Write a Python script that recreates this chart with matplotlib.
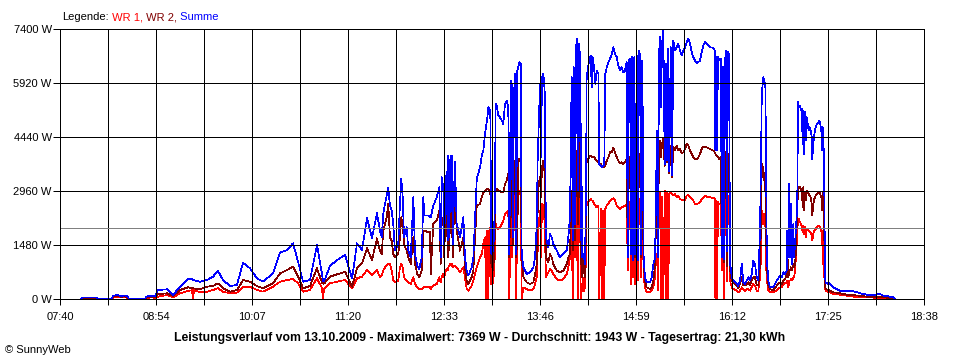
import matplotlib
matplotlib.use("Agg")
import matplotlib.pyplot as plt
import numpy as np

plt.rcParams['font.family'] = ['Liberation Sans', 'DejaVu Sans']

# ---------------- data (time in minutes since midnight, power in W) ----------------
time_min = [
    # early morning
    476.0, 476.8, 488.2, 488.9, 499.6, 500.4, 503.4, 506.5, 509.5, 511.8, 512.6, 524.7, 525.5, 528.5, 532.4, 534.6,
    # morning
    541.5, 546.1, 551.4, 557.5, 560.5, 561.3, 562.1, 566.6, 572.0, 576.5, 580.3, 584.1, 589.5, 594.8, 599.4, 604.7,
    610.0, 614.6, 622.2, 627.6, 632.9, 637.5, 641.3, 645.1, 650.4, 655.7, 659.5, 660.3, 661.1, 665.6, 671.0, 677.1,
    682.4, 686.2, 690.0, 693.8, 697.6, 701.4,
    # late morning
    703.7, 705.0, 706.2, 707.5, 708.8, 710.0, 711.3, 712.6, 713.8, 715.1, 717.6, 718.9, 719.9, 721.0, 722.0,
    724.0, 725.3, 727.1, 729.1, 730.4, 732.1, 733.6, 735.5, 736.7, 737.4, 740.5, 741.8, 742.3, 744.3, 746.9,
    748.9, 749.9, 750.7, 751.9, 752.7, 753.4, 754.5, 755.3, 755.7, 756.5, 757.3, 758.3, 759.1, 760.1, 760.8,
    762.1, 764.6, 767.2, 768.4, 769.7, 771.0, 773.5, 774.8, 777.4, 779.9,
    # early afternoon
    781.2, 782.4, 783.7, 784.4, 785.2, 786.2, 787.0, 787.7, 788.5, 790.0, 791.1, 791.8, 792.6, 793.8, 795.1,
    796.4, 797.6, 798.9, 800.2, 801.4, 802.2, 803.3, 804.0, 804.8, 805.8, 806.5, 807.3, 808.3, 809.0, 809.8,
    810.9, 811.6, 812.9, 815.4, 818.0, 820.5, 821.8, 823.1, 823.8, 824.6, 825.6, 826.3, 827.1, 828.1, 829.1,
    830.1, 831.9, 833.2, 834.5, 835.7, 838.3, 840.8, 843.3, 845.9, 847.1, 848.4, 849.2, 849.7, 850.5, 851.2,
    852.0, 852.7, 853.5, 854.3, 855.0, 856.0,
    # afternoon
    856.6, 857.0, 857.6, 858.3, 859.1, 859.8, 860.6, 861.1, 862.1, 863.1, 864.2, 864.9, 865.7, 866.7, 867.7,
    868.7, 870.0, 870.7, 871.8, 872.8, 873.8, 874.5, 875.3, 876.4, 877.6, 878.9, 880.2, 881.4, 882.7, 884.0,
    885.2, 886.5, 887.8, 889.0, 890.3, 891.6, 892.4, 893.1, 894.1, 894.9, 895.6, 896.4, 897.4, 898.1, 899.2,
    900.0, 901.0, 902.0, 902.7, 903.5, 904.5, 905.5, 906.8, 909.3, 910.6, 911.9, 913.2, 913.9, 914.7, 915.4,
    916.2, 917.0, 917.7, 918.5, 919.5, 920.5, 921.5, 922.5, 923.3, 924.0, 925.1, 926.1, 927.1, 928.4, 929.7,
    930.9, 932.2,
    # mid afternoon
    933.5, 934.7, 936.0, 937.3, 938.5, 939.8, 941.1, 942.3, 943.6, 944.9, 946.1, 947.4, 948.7, 949.9, 951.2,
    952.5, 955.0, 957.6, 958.6, 959.1, 959.8, 960.4, 961.1, 962.1, 963.2, 964.2, 964.9, 965.7, 966.5, 967.2,
    968.0, 968.7, 969.5, 970.3, 971.6, 972.8, 975.4, 976.6, 977.9, 979.2, 980.4, 981.7, 983.0, 984.2, 985.5,
    986.8, 988.0, 989.3, 990.6, 991.8, 993.1, 993.9, 994.4, 994.9, 995.6, 996.4, 997.2, 997.7, 998.2, 998.7,
    999.4, 1000.7, 1003.2, 1005.8, 1008.4,
    # evening
    1009.6, 1010.9, 1012.2, 1013.5, 1013.9, 1014.7, 1015.4, 1016.0, 1016.7, 1017.5, 1018.5, 1019.0, 1019.8,
    1020.5, 1021.1, 1021.5, 1022.1, 1022.8, 1023.6, 1024.4, 1024.9, 1025.6, 1026.1, 1026.6, 1027.4, 1027.9,
    1028.7, 1029.4, 1030.2, 1031.0, 1031.7, 1032.5, 1032.9, 1033.7, 1034.5, 1035.5, 1036.3, 1037.5, 1038.3,
    1039.0, 1039.8, 1040.3, 1040.9, 1041.3, 1041.9, 1042.4, 1042.9, 1045.1, 1046.4, 1048.9, 1051.5, 1054.0,
    1059.1, 1064.2, 1068.0, 1069.3, 1074.4, 1079.4, 1084.5, 1087.0, 1089.6, 1092.1, 1094.6, 1095.9,
]

summe = [
    0, 40, 40, 0, 0, 90, 110, 80, 100, 60, 0, 0, 60, 90, 80, 247,
    266, 110, 337, 557, 540, 521, 510, 475, 521, 612, 767, 521, 356, 384, 995, 841,
    567, 475, 704, 1270, 1343, 1526, 1023, 475, 521, 1480, 700, 500, 480, 904, 1069, 1206,
    560, 1526, 1343, 2211, 1663, 2349,
    1874, 1691, 2331, 2605, 2833, 3044, 2559, 2422, 2057, 1325, 1508, 2605, 3290, 2788, 1691,
    1965, 1325, 1142, 2788, 1234, 914, 823, 1142, 2788, 2285, 2285, 2239, 2239, 2559, 2788,
    3062, 1142, 3336, 3062, 1508, 3153, 3473, 1600, 3930, 1691, 3884, 3930, 1508, 2970, 3747,
    2057, 1691, 2239, 1142, 777, 640, 868, 1142, 3290, 3610,
    3930, 4067, 4524, 4707, 4890, 5255, 5210, 5164, 1234, 1325, 2422, 5347, 5301, 5027, 4981,
    4890, 4799, 5347, 5438, 5255, 1234, 5987, 5895, 1691, 5621, 6170, 1234, 6261, 6353, 6490,
    6444, 1234, 868, 686, 731, 868, 1142, 2057, 3884, 4799, 5895, 3884, 6078, 6170, 5712,
    1691, 1416, 1782, 1691, 1508, 1325, 1142, 1234, 1325, 1691, 2239, 4799, 6078, 1600, 6353,
    2057, 6627, 7130, 2970, 6992, 6718,
    1600, 4799, 1142, 1234, 1142, 960, 2970, 6078, 6353, 6535, 6672, 5804, 6627, 6353, 5895,
    6261, 6170, 3702, 3656, 3610, 3656, 3702, 6170, 6353, 6490, 6581, 6718, 6900, 6718, 6627,
    6398, 6261, 6353, 6215, 6261, 6490, 1142, 6535, 6581, 1234, 6627, 1051, 6627, 1234, 6672,
    1051, 6809, 6627, 1234, 6535, 1142, 594, 457, 457, 594, 960, 1142, 2970, 4616, 1142,
    6718, 7175, 5255, 6992, 7369, 3700, 6444, 3800, 6855, 3500, 6900, 3400, 7084, 6809, 6900,
    6992, 6809,
    6672, 6809, 6900, 7038, 7130, 6992, 6764, 6627, 6535, 6462, 6490, 6535, 6764, 6946, 7038,
    6992, 6900, 6882, 6809, 4067, 6627, 4067, 6627, 6535, 6581, 1142, 6353, 1100, 6535, 6809,
    1300, 6764, 6718, 1000, 594, 503, 411, 360, 503, 960, 457, 411, 503, 594, 503,
    685, 1051, 960, 594, 503, 1874, 3884, 5438, 5804, 6078, 5987, 5804, 3884, 1600, 900,
    503, 320, 320, 503, 640,
    594, 731, 685, 777, 1874, 1142, 3153, 1142, 2605, 960, 2057, 1142, 1508,
    1965, 2300, 2788, 5393, 5255, 5301, 5164, 5210, 4250, 5164, 3976, 5118, 4341,
    4981, 4799, 4616, 4707, 4616, 4433, 3839, 4250, 4524, 4707, 4799, 4844, 4890,
    4799, 4616, 4067, 4707, 4524, 3702, 1600, 457, 411, 430, 320, 274, 228,
    210, 210, 174, 155, 119, 110, 137, 91, 82, 64, 46, 0,
]

wr2 = [
    0, 20, 20, 0, 0, 60, 80, 60, 70, 40, 0, 0, 40, 60, 55, 128,
    156, 82, 247, 320, 300, 293, 290, 265, 338, 356, 430, 293, 201, 247, 521, 475,
    356, 293, 430, 704, 795, 886, 612, 293, 356, 841, 450, 430, 420, 612, 677, 748,
    338, 841, 978, 1389, 1069, 1663,
    1325, 1234, 1874, 2057, 2239, 2605, 1691, 1600, 1234, 1142, 1234, 1691, 2239, 2057, 1508,
    1325, 1142, 960, 1691, 960, 685, 594, 777, 1874, 1874, 1828, 1828, 685, 2057, 2148,
    2422, 960, 2057, 2239, 1142, 2422, 2605, 1142, 2879, 1325, 2788, 2605, 1142, 2422, 2879,
    1874, 1325, 1691, 868, 503, 411, 594, 777, 2559, 2605,
    2788, 2925, 2970, 2970, 3016, 3016, 2988, 2970, 960, 777, 1691, 2970, 3016, 2970, 2970,
    2925, 2925, 3153, 3245, 3427, 1142, 3519, 3427, 1508, 3610, 3793, 1142, 1600, 3747, 3839,
    3793, 1142, 594, 457, 411, 457, 685, 960, 2422, 3153, 3336, 2788, 3610, 3793, 3427,
    1142, 1005, 1234, 1142, 960, 777, 731, 777, 960, 1142, 1234, 2422, 2970, 1325, 3336,
    1600, 3610, 4067, 2057, 4250, 4433,
    960, 1874, 594, 777, 1142, 594, 2057, 3793, 3839, 3884, 3930, 3884, 3905, 3884, 3839,
    3793, 3747, 3702, 3702, 3656, 3610, 3629, 3656, 3793, 3884, 4022, 4022, 4141, 4022, 3884,
    3793, 3720, 3747, 3702, 3747, 3839, 1142, 3884, 3905, 1234, 3884, 1142, 3930, 1142, 3976,
    1051, 3976, 3884, 1142, 3793, 960, 503, 320, 274, 320, 503, 960, 2057, 2970, 1142,
    4250, 4341, 3884, 4250, 4387, 3650, 4159, 3750, 4067, 3450, 4205, 3350, 4159, 4067, 4205,
    4067, 4113,
    3994, 4022, 4113, 4250, 4205, 4067, 3976, 3884, 3839, 3839, 3884, 3976, 4113, 4177, 4159,
    4159, 4113, 4067, 4022, 3976, 3930, 3930, 3905, 3839, 3884, 1142, 3976, 1000, 3884, 4022,
    900, 3976, 3930, 800, 503, 457, 366, 300, 411, 594, 366, 366, 411, 457, 366,
    503, 594, 594, 366, 366, 960, 2057, 3702, 3336, 3610, 3245, 2970, 1691, 1142, 700,
    366, 274, 228, 366, 457,
    411, 503, 548, 685, 1325, 594, 777, 777, 868, 777, 960, 868, 960,
    1325, 2057, 2422, 3062, 3080, 3062, 2970, 3016, 2514, 3062, 2422, 2925, 2696,
    2970, 2925, 2879, 2833, 2788, 2605, 2285, 2605, 2742, 2833, 2879, 2925, 2925,
    2879, 2788, 2422, 2925, 2605, 2057, 960, 274, 247, 228, 183, 174, 155,
    119, 110, 91, 91, 64, 64, 46, 46, 37, 27, 18, 0,
]

wr1 = [
    0, 10, 10, 0, 0, 40, 50, 40, 45, 30, 0, 0, 20, 40, 35, 64,
    110, 46, 156, 219, 240, 0, 240, 192, 201, 247, 293, 201, 156, 174, 338, 338,
    247, 201, 338, 475, 521, 548, 430, 201, 247, 567, 300, 0, 280, 430, 475, 521,
    293, 567, 612, 795, 658, 795,
    594, 640, 777, 868, 914, 960, 960, 777, 503, 457, 503, 868, 960, 868, 594,
    503, 457, 411, 594, 411, 320, 274, 274, 320, 320, 320, 320, 274, 366, 411,
    594, 457, 594, 685, 594, 731, 823, 777, 868, 914, 960, 960, 868, 914, 914,
    868, 731, 868, 594, 274, 228, 366, 503, 868, 1142,
    1234, 1508, 1691, 0, 1874, 0, 1919, 1965, 411, 457, 1142, 2057, 1965, 1919, 1965,
    2057, 2148, 2331, 2376, 2422, 0, 2605, 1142, 2422, 2514, 2879, 0, 2057, 2788, 2970,
    2925, 0, 320, 274, 228, 274, 411, 594, 1325, 2057, 2422, 1142, 2605, 2560, 2057,
    594, 731, 823, 777, 685, 548, 503, 548, 685, 868, 1142, 1691, 2057, 0, 2422,
    1142, 2605, 2788, 0, 2879, 2925,
    0, 411, 228, 594, 228, 320, 1142, 2605, 2651, 2696, 2742, 2696, 2696, 2605, 2560,
    2514, 2560, 0, 2468, 0, 2422, 0, 2468, 2560, 2605, 2696, 2742, 2760, 2696, 2560,
    2514, 2468, 2514, 2532, 2560, 2605, 777, 2605, 2651, 411, 2651, 594, 2651, 411, 2696,
    503, 2742, 2651, 594, 2605, 594, 320, 183, 183, 228, 320, 594, 1142, 1233, 228,
    2879, 2925, 0, 2788, 0, 2970, 0, 2925, 0, 2879, 2925, 2879, 2833, 2879, 2788,
    2833, 2742,
    2715, 2696, 2724, 2833, 2861, 2788, 2742, 2696, 2605, 2605, 2623, 2651, 2742, 2788, 2833,
    2806, 2788, 2770, 2742, 0, 2696, 0, 2651, 2605, 2605, 777, 2970, 0, 2879, 2879,
    500, 2833, 2788, 500, 320, 274, 228, 183, 228, 320, 274, 228, 274, 274, 228,
    320, 411, 366, 228, 228, 594, 1142, 2239, 2422, 2057, 2331, 1965, 960, 594, 411,
    228, 183, 183, 228, 320,
    320, 411, 430, 457, 503, 320, 503, 503, 548, 503, 594, 594, 777,
    1142, 1508, 1874, 2148, 2194, 2102, 2057, 1965, 1828, 2011, 1782, 1965, 1691,
    1919, 1892, 1874, 1855, 1828, 1737, 1600, 1782, 1874, 1919, 1965, 2011, 2011,
    1965, 1874, 1508, 1874, 960, 594, 594, 228, 183, 183, 137, 128, 119,
    91, 64, 64, 46, 46, 37, 27, 27, 18, 9, 9, 0,
]

average_w = 1943
y_ticks = [0, 1480, 2960, 4440, 5920, 7400]
y_labels = ["0 W", "1480 W", "2960 W", "4440 W", "5920 W", "7400 W"]
x_labels = ["07:40", "08:54", "10:07", "11:20", "12:33", "13:46", "14:59", "16:12", "17:25", "18:38"]
x_start, x_end = 460, 1118

legend_parts = [("Legende:", "#000000"), (" WR 1,", "#ff0000"), (" WR 2,", "#800000"), (" Summe", "#0000ff")]
title_text = ("Leistungsverlauf vom 13.10.2009 - Maximalwert: 7369 W - Durchschnitt: 1943 W - "
              "Tagesertrag: 21,30 kWh")
credit_text = "\u00a9 SunnyWeb"

assert len(time_min) == len(summe) == len(wr1) == len(wr2)

# ---------------- figure ----------------
W, H = 960, 360
fig = plt.figure(figsize=(W / 100, H / 100), dpi=100)
fig.patch.set_facecolor("white")
ax = fig.add_axes([60 / W, 61 / H, 864 / W, 270 / H])

lw_data = 0.5
px = 0.72  # 1 pixel in points
ax.plot(time_min, wr1, color="#ff0000", lw=lw_data, antialiased=False, zorder=2)
ax.plot(time_min, wr2, color="#800000", lw=lw_data, antialiased=False, zorder=2.05)
ax.plot(time_min, summe, color="#0000ff", lw=lw_data, antialiased=False, zorder=2.1)
ax.axhline(average_w, color="#808080", lw=lw_data, antialiased=False, zorder=2.7)

ax.set_xlim(x_start, x_end)
ax.set_ylim(0, 7400)

grid_x = np.linspace(x_start, x_end, 2 * (len(x_labels) - 1) + 1)
ax.set_xticks(grid_x[::2])
ax.set_xticklabels(x_labels)
ax.set_xticks(grid_x[1::2], minor=True)
ax.set_yticks(y_ticks)
ax.set_yticklabels(y_labels)

ax.set_axisbelow(False)
ax.grid(True, which="both", axis="x", color="black", lw=px, antialiased=False)
ax.grid(True, which="major", axis="y", color="black", lw=px, antialiased=False)

for s in ax.spines.values():
    s.set_color("black")
    s.set_linewidth(px)
    s.set_zorder(3)

ax.tick_params(axis="x", which="both", direction="out", length=4, width=px, pad=5,
               labelsize=8, colors="black")
ax.tick_params(axis="y", which="both", direction="out", length=5, width=px, pad=1,
               labelsize=8, colors="black")

# legend line at top
fig.canvas.draw()
renderer = fig.canvas.get_renderer()
xpos = 62 / W
for txt, col in legend_parts:
    t = fig.text(xpos, 1 - 17 / H, txt, color=col, fontsize=8, ha="left", va="center")
    bb = t.get_window_extent(renderer=renderer)
    xpos += bb.width / W

fig.text(480 / W, 1 - 338 / H, title_text, fontsize=8.8, fontweight="bold", ha="center", va="center",
         color="black")
fig.text(5 / W, 1 - 350 / H, credit_text, fontsize=8, ha="left", va="center", color="black")

fig.savefig("out.png", dpi=100, facecolor="white")
